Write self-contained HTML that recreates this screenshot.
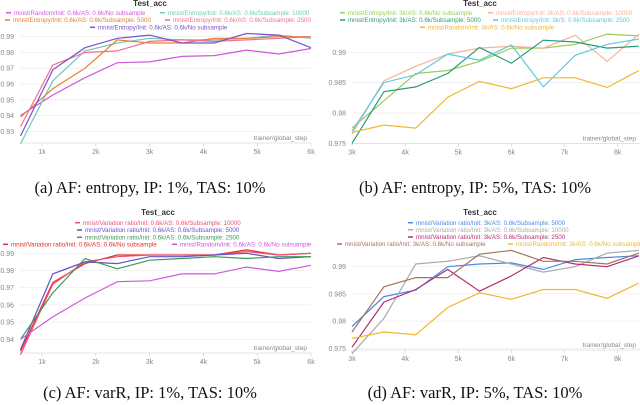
<!DOCTYPE html>
<html><head><meta charset="utf-8"><style>
body{margin:0;background:#fff;width:640px;height:405px;overflow:hidden}
svg{position:absolute;left:0;top:0}
text{font-family:"Liberation Sans",sans-serif}
.cap{font-family:"Liberation Serif",serif;font-size:16.5px;fill:#111}
</style></head><body>
<svg id="fig" width="640" height="405"></svg>
<script>
const xStepsA=[0.6,1.2,1.8,2.4,3.0,3.6,4.2,4.8,5.4,6.0];
const xStepsB=[3.0,3.6,4.2,4.8,5.4,6.0,6.6,7.2,7.8,8.4];
const xTicksA=[1,2,3,4,5,6];
const xTicksB=[3,4,5,6,7,8];
const yTicksA=[0.93,0.94,0.95,0.96,0.97,0.98,0.99];
const yTicksC=[0.94,0.95,0.96,0.97,0.98,0.99];
const yTicksB=[0.975,0.98,0.985,0.99];
const aRandom=[0.940,0.953,0.964,0.9735,0.974,0.9775,0.978,0.9815,0.979,0.9825];
const aEnt10000=[0.922,0.962,0.981,0.986,0.989,0.988,0.988,0.989,0.991,0.989];
const aEnt5000=[0.939,0.957,0.970,0.988,0.986,0.986,0.989,0.989,0.990,0.990];
const aEnt2500=[0.933,0.972,0.980,0.981,0.987,0.988,0.987,0.988,0.989,0.990];
const aEntNoSub=[0.927,0.969,0.983,0.989,0.991,0.986,0.986,0.992,0.991,0.983];
const bEntNoSub=[0.9775,0.982,0.9865,0.987,0.9885,0.9907,0.9907,0.9913,0.993,0.9927];
const bEnt10000=[0.9765,0.9853,0.9877,0.9897,0.9907,0.991,0.9907,0.9928,0.9885,0.993];
const bEnt5000=[0.975,0.9835,0.9843,0.9865,0.9908,0.9882,0.992,0.9917,0.9907,0.991];
const bEnt2500=[0.977,0.985,0.9863,0.9897,0.9887,0.9912,0.9843,0.9895,0.9913,0.9922];
const bRandom=[0.9768,0.978,0.9775,0.9826,0.9852,0.984,0.9858,0.9858,0.9842,0.987];
const cVar10000=[0.931,0.972,0.985,0.988,0.989,0.989,0.989,0.991,0.989,0.990];
const cVar5000=[0.934,0.978,0.985,0.984,0.988,0.988,0.989,0.990,0.987,0.988];
const cVar2500=[0.940,0.967,0.987,0.981,0.986,0.987,0.988,0.987,0.988,0.988];
const cVarNoSub=[0.933,0.973,0.984,0.989,0.989,0.989,0.989,0.992,0.989,0.990];
const cRandom=[0.940,0.953,0.964,0.9735,0.974,0.978,0.978,0.982,0.9795,0.983];
const dVar5000=[0.979,0.9845,0.9857,0.990,0.9905,0.9907,0.9895,0.9913,0.9917,0.992];
const dVar10000=[0.974,0.9805,0.9905,0.991,0.992,0.9905,0.989,0.990,0.9925,0.993];
const dVar2500=[0.9752,0.9835,0.9858,0.9895,0.9855,0.9883,0.9917,0.9905,0.990,0.992];
const dVarNoSub=[0.978,0.9863,0.988,0.988,0.9923,0.993,0.991,0.991,0.9905,0.9925];
const dRandom=[0.9768,0.978,0.9775,0.9825,0.9852,0.984,0.9858,0.9858,0.9842,0.987];

const NS='http://www.w3.org/2000/svg';
const fig=document.getElementById('fig');
function mk(tag,attrs,parent,txt){const e=document.createElementNS(NS,tag);for(const k in attrs)e.setAttribute(k,attrs[k]);if(txt!==undefined)e.textContent=txt;parent.appendChild(e);return e;}

const panels=[
 {id:'a',xs:xStepsA,xt:xTicksA,yt:yTicksA,x1k:[1,42],x2k:[6,311],y1:[0.99,36.7],y2:[0.93,131.3],axisY:143,left:20,right:311,
  titleX:150,titleY:6,cap:'(a) AF: entropy, IP: 1%, TAS: 10%',capX:150,capY:193,
  series:[['random',aRandom,'#cc5ad8','mnist/Random/Init: 0.6k/AS: 0.6k/No subsample',6,12.7],
   ['entropy-10000',aEnt10000,'#72c9b6','mnist/Entropy/Init: 0.6k/AS: 0.6k/Subsample: 10000',160,12.7],
   ['entropy-5000',aEnt5000,'#e97d2c','mnist/Entropy/Init: 0.6k/AS: 0.6k/Subsample: 5000',5,20],
   ['entropy-2500',aEnt2500,'#f2708c','mnist/Entropy/Init: 0.6k/AS: 0.6k/Subsample: 2500',165,20],
   ['entropy-no-subsample',aEntNoSub,'#7b50d2','mnist/Entropy/Init: 0.6k/AS: 0.6k/No subsample',90,27.3]]},
 {id:'b',xs:xStepsB,xt:xTicksB,yt:yTicksB,x1k:[3,352],x2k:[8,617.7],y1:[0.99,52.3],y2:[0.975,143.3],axisY:143.5,left:352,right:640,
  titleX:480,titleY:6,cap:'(b) AF: entropy, IP: 5%, TAS: 10%',capX:475,capY:193,
  series:[['entropy-no-subsample',bEntNoSub,'#9ccc5c','mnist/Entropy/Init: 3k/AS: 0.6k/No subsample',340,12.7],
   ['entropy-10000',bEnt10000,'#f3b49c','mnist/Entropy/Init: 3k/AS: 0.6k/Subsample: 10000',488,12.7],
   ['entropy-5000',bEnt5000,'#2a9a7a','mnist/Entropy/Init: 3k/AS: 0.6k/Subsample: 5000',340,20],
   ['entropy-2500',bEnt2500,'#5ccbe0','mnist/Entropy/Init: 3k/S: 0.6k/Subsample: 2500',493,20],
   ['random',bRandom,'#f0b830','mnist/Random/Init: 3k/AS: 0.6k/No subsample',420,27.3]]},
 {id:'c',xs:xStepsA,xt:xTicksA,yt:yTicksC,x1k:[1,42],x2k:[6,311],y1:[0.99,253.3],y2:[0.94,339.3],axisY:353,left:20,right:311,
  titleX:158,titleY:215,cap:'(c) AF: varR, IP: 1%, TAS: 10%',capX:150,capY:398,
  series:[['varr-no-subsample',cVarNoSub,'#e0302e','mnist/Variation ratio/Init: 0.6k/AS: 0.6k/No subsample',3,244.3],
   ['varr-10000',cVar10000,'#f0506e','mnist/Variation ratio/Init: 0.6k/AS: 0.6k/Subsample: 10000',75,222.7],
   ['varr-5000',cVar5000,'#6a4fc8','mnist/Variation ratio/Init: 0.6k/AS: 0.6k/Subsample: 5000',77,230],
   ['varr-2500',cVar2500,'#3a9a5a','mnist/Variation ratio/Init: 0.6k/AS: 0.6k/Subsample: 2500',77,237.3],
   ['random',cRandom,'#cc5ad8','mnist/Random/Init: 0.6k/AS: 0.6k/No subsample',172,244.3]]},
 {id:'d',xs:xStepsB,xt:xTicksB,yt:yTicksB,x1k:[3,352],x2k:[8,617.7],y1:[0.99,266.7],y2:[0.975,348.3],axisY:350,left:352,right:640,
  titleX:480,titleY:215,cap:'(d) AF: varR, IP: 5%, TAS: 10%',capX:475,capY:398,
  series:[['varr-5000',dVar5000,'#4a8ae8','mnist/Variation ratio/Init: 3k/AS: 0.6k/Subsample: 5000',408,222.7],
   ['varr-10000',dVar10000,'#aaaaaa','mnist/Variation ratio/Init: 3k/AS: 0.6k/Subsample: 10000',408,229.7],
   ['varr-2500',dVar2500,'#b03070','mnist/Variation ratio/Init: 3k/AS: 0.6k/Subsample: 2500',408,237],
   ['varr-no-subsample',dVarNoSub,'#a87060','mnist/Variation ratio/Init: 3k/AS: 0.6k/No subsample',337,244],
   ['random',dRandom,'#f0b830','mnist/Random/Init: 3k/AS: 0.6k/No subsample',508,244]]}
];

panels.forEach(p=>{
  const g=mk('g',{},fig);
  
  
  const X=v=>p.x1k[1]+(v-p.x1k[0])*(p.x2k[1]-p.x1k[1])/(p.x2k[0]-p.x1k[0]);
  const Y=v=>p.y1[1]+(v-p.y1[0])*(p.y2[1]-p.y1[1])/(p.y2[0]-p.y1[0]);
  p.yt.forEach(t=>{
    const l=mk('line',{x1:p.left,x2:p.right,y1:Y(t),y2:Y(t),stroke:'#ececec','stroke-width':0.7},g);
    
    const tx=mk('text',{x:p.left-6,y:Y(t)+2.5,'font-size':7,fill:'#888','text-anchor':'end'},g,String(t));
    
  });
  const ax=mk('line',{x1:p.left,x2:p.right,y1:p.axisY,y2:p.axisY,stroke:'#ddd','stroke-width':0.8},g);
  
  p.xt.forEach(t=>{
    mk('line',{x1:X(t),x2:X(t),y1:p.axisY,y2:p.axisY+3,stroke:'#ccc','stroke-width':0.7},g);
    const tx=mk('text',{x:X(t),y:p.axisY+11,'font-size':7,fill:'#888','text-anchor':'middle'},g,t+'k');
    
  });
  const xl=mk('text',{x:p.right-4,y:p.axisY-3,'font-size':6.5,fill:'#888','text-anchor':'end'},g,'trainer/global_step');
  
  const tt=mk('text',{x:p.titleX,y:p.titleY,'font-size':8,fill:'#333','font-weight':'bold','text-anchor':'middle'},g,'Test_acc');
  
  p.series.forEach(s=>{
    const pts=s[1].map((v,i)=>X(p.xs[i]).toFixed(1)+','+Y(v).toFixed(1)).join(' ');
    const pl=mk('polyline',{points:pts,fill:'none',stroke:s[2],'stroke-width':1.2},g);
    
    const le=mk('g',{},g);
    
    
    mk('line',{x1:s[4],x2:s[4]+5,y1:s[5],y2:s[5],stroke:s[2],'stroke-width':1.5},le);
    mk('text',{x:s[4]+8,y:s[5]+2.2,'font-size':6.2,fill:s[2]},le,s[3]);
  });
  const cp=mk('text',{x:p.capX,y:p.capY,'text-anchor':'middle',class:'cap'},g,p.cap);
  
});
</script>
</body></html>
